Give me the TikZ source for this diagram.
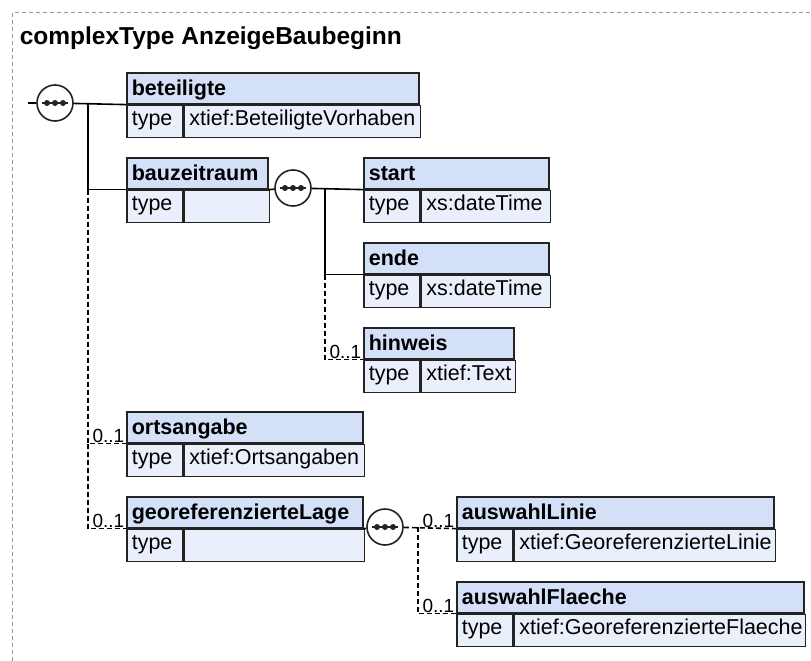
\documentclass[tikz,border=0pt]{standalone}
\usepackage{fontspec}
\setmainfont{Liberation Sans}

\definecolor{headfill}{RGB}{212,224,247}
\definecolor{typefill}{RGB}{234,240,251}
\definecolor{boxline}{RGB}{35,35,35}
\definecolor{frameline}{RGB}{150,150,150}

\begin{document}
\begin{tikzpicture}[x=1pt, y=-1pt, line width=1.6pt,
  head/.style={rectangle, draw=boxline, fill=headfill, anchor=north west, minimum height=31, inner xsep=5, inner ysep=0, text height=17, text depth=3, align=left, font=\fontsize{21.5}{24}\selectfont\bfseries},
  typecell/.style={rectangle, draw=boxline, fill=typefill, anchor=north west, minimum height=32, inner xsep=5, inner ysep=0, text height=15, text depth=6, text width=46, align=left, font=\fontsize{21.5}{24}\selectfont},
  typeval/.style={typecell, text width=#1},
  seq/.style={circle, draw=boxline, fill=white, minimum size=36, inner sep=0,
    path picture={
      \draw[boxline, line width=1.4pt] ([xshift=-13pt]path picture bounding box.center) -- ([xshift=13pt]path picture bounding box.center);
      \foreach \dx in {-8,0,8} \fill[boxline] ([xshift=\dx pt]path picture bounding box.center) circle (3pt);}},
  opt/.style={dash pattern=on 5pt off 3pt},
  mult/.style={anchor=south east, inner xsep=1, inner ysep=0.5, font=\fontsize{19}{19}\selectfont}]

\path[use as bounding box] (0,0) rectangle (811,661);
\draw[frameline, line width=1pt, dash pattern=on 4pt off 3pt] (12,661) -- (12,13) -- (811,13);

\node[anchor=base west, inner sep=0, font=\fontsize{24.5}{28}\selectfont\bfseries] (title) at (19,45) {complexType AnzeigeBaubeginn};

% elements
\node[head, text width=282] (beteiligte) at (126,72) {beteiligte};
\node[typecell] (beteiligte-t) at (beteiligte.south west) {type};
\node[typeval=226] (beteiligte-v) at (beteiligte-t.north east) {xtief:BeteiligteVorhaben};

\node[head, text width=131] (bauzeitraum) at (126,157) {bauzeitraum};
\node[typecell] (bauzeitraum-t) at (bauzeitraum.south west) {type};
\node[typeval=75] (bauzeitraum-v) at (bauzeitraum-t.north east) {};

\node[head, text width=175] (start) at (363,157) {start};
\node[typecell] (start-t) at (start.south west) {type};
\node[typeval=119] (start-v) at (start-t.north east) {xs:dateTime};

\node[head, text width=175] (ende) at (363,242) {ende};
\node[typecell] (ende-t) at (ende.south west) {type};
\node[typeval=119] (ende-v) at (ende-t.north east) {xs:dateTime};

\node[head, text width=140] (hinweis) at (363,327) {hinweis};
\node[typecell] (hinweis-t) at (hinweis.south west) {type};
\node[typeval=84] (hinweis-v) at (hinweis-t.north east) {xtief:Text};

\node[head, text width=226] (ortsangabe) at (126,411) {ortsangabe};
\node[typecell] (ortsangabe-t) at (ortsangabe.south west) {type};
\node[typeval=170] (ortsangabe-v) at (ortsangabe-t.north east) {xtief:Ortsangaben};

\node[head, text width=226] (georef) at (126,496) {georeferenzierteLage};
\node[typecell] (georef-t) at (georef.south west) {type};
\node[typeval=170] (georef-v) at (georef-t.north east) {};

\node[head, text width=307] (auswahlLinie) at (456,496) {auswahlLinie};
\node[typecell] (auswahlLinie-t) at (auswahlLinie.south west) {type};
\node[typeval=251] (auswahlLinie-v) at (auswahlLinie-t.north east) {xtief:GeoreferenzierteLinie};

\node[head, text width=337] (auswahlFlaeche) at (456,581) {auswahlFlaeche};
\node[typecell] (auswahlFlaeche-t) at (auswahlFlaeche.south west) {type};
\node[typeval=281] (auswahlFlaeche-v) at (auswahlFlaeche-t.north east) {xtief:GeoreferenzierteFlaeche};

% sequences
\node[seq] (seq1) at (55,103) {};
\node[seq] (seq2) at (293,188) {};
\node[seq] (seq3) at (385,527) {};

\coordinate (entry) at (28,103);
\coordinate (trunk1) at (88,103);
\coordinate (trunk2) at (325,188);
\coordinate (trunk3) at (418,527);

% connectors
\draw (entry) -- (seq1);
\draw (seq1) -- (beteiligte.south west);
\draw (trunk1) |- (bauzeitraum.south west);
\draw[opt] (trunk1 |- bauzeitraum.south west) |- (ortsangabe.south west);
\draw[opt] (trunk1 |- ortsangabe.south west) |- (georef.south west);

\draw (bauzeitraum.south east) -- (seq2);
\draw (seq2) -- (start.south west);
\draw (trunk2) |- (ende.south west);
\draw[opt] (trunk2 |- ende.south west) |- (hinweis.south west);

\draw (georef.south east) -- (seq3);
\draw[opt] (seq3) -- (auswahlLinie.south west);
\draw[opt] (trunk3) |- (auswahlFlaeche.south west);

% multiplicities
\node[mult] at (hinweis.south west) {0..1};
\node[mult] at (ortsangabe.south west) {0..1};
\node[mult] at (georef.south west) {0..1};
\node[mult] at (auswahlLinie.south west) {0..1};
\node[mult] at (auswahlFlaeche.south west) {0..1};
\end{tikzpicture}
\end{document}
